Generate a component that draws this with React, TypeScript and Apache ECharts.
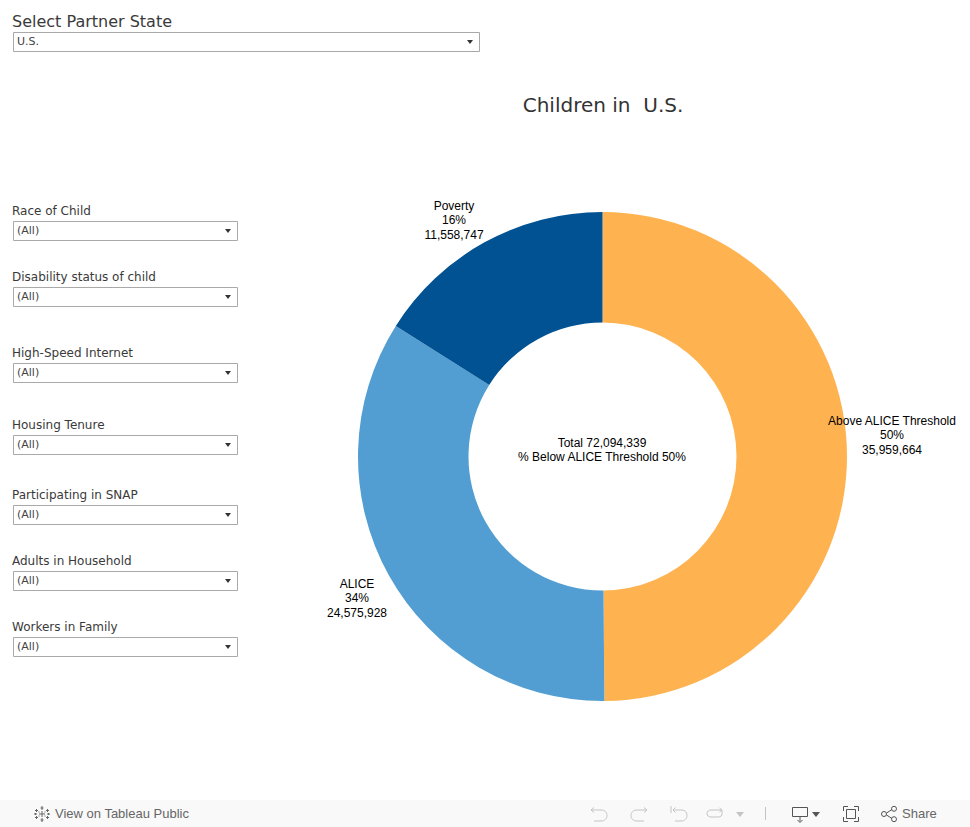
import React, { useEffect, useRef } from "react";
import * as echarts from "echarts";

const segmentNames = ["Above ALICE Threshold", "ALICE", "Poverty"];
const segmentValues = [35959664, 24575928, 11558747];
const segmentPercents = ["50%", "34%", "16%"];
const segmentColors = ["#FFB350", "#529ED2", "#005292"];
const totalLine = "Total 72,094,339";
const belowLine = "% Below ALICE Threshold 50%";
const chartTitle = "Children in  U.S.";
const partnerLabel = "Select Partner State";
const partnerValue = "U.S.";
const filterLabels = [
  "Race of Child",
  "Disability status of child",
  "High-Speed Internet",
  "Housing Tenure",
  "Participating in SNAP",
  "Adults in Household",
  "Workers in Family",
];
const filterValue = "(All)";
const filterBoxTops = [221, 287, 363, 435, 505, 571, 637];

const labelAnchors = [
  { x: 892, y: 435 },
  { x: 357, y: 598 },
  { x: 454, y: 220 },
];

const D_LOGO =
  "M8 0V4M6.5 2H9.5M8 12V16M6.5 14H9.5M2.5 3V6M1 4.5H4M13.5 3V6M12 4.5H15M2.5 10V13M1 11.5H4M13.5 10V13M12 11.5H15M0 8H3M1.5 7V9M13 8H16M14.5 7V9M8 5V11M5 8H11M5 5.5V6.5M11 5.5V6.5M5 9.5V10.5M11 9.5V10.5";
const D_UNDO = "M1 4H11C15 4 17 6.5 17 9.5C17 12.5 15 15 11 15H4M1 4L4 1.5M1 4L4 6.5";
const D_REDO = "M17 4H7C3 4 1 6.5 1 9.5C1 12.5 3 15 7 15H14M17 4L14 1.5M17 4L14 6.5";
const D_REVERT = "M1 0V7M3 4H12C15 4 17 6.5 17 9.5C17 12.5 15 15 11 15H5M3 4L5.5 1.5M3 4L5.5 6.5";
const D_REFRESH = "M16 3H5C2.5 3 1 4.5 1 6.5C1 8.5 2.5 10 5 10H12C15 10 16 8.5 16 6.5V3M16 3L13.5 1M16 3L13.5 5";
const D_DEVICE = "M0.5 0.5H15.5V9.5H0.5ZM8 9.5V14.5M5.5 13L8 15.5L10.5 13";
const D_FULL = "M0.5 5V0.5H5M11 0.5H15.5V5M15.5 11V15.5H11M5 15.5H0.5V11M3.5 3.5H12.5V12.5H3.5Z";
const D_SHARE =
  "M5.5 7L11 3.5M5.5 9L11 12.5M5.5 8A2.5 2.5 0 1 1 0.5 8A2.5 2.5 0 1 1 5.5 8M15.5 2.8A2.5 2.5 0 1 1 10.5 2.8A2.5 2.5 0 1 1 15.5 2.8M15.5 13.2A2.5 2.5 0 1 1 10.5 13.2A2.5 2.5 0 1 1 15.5 13.2";

const G = echarts.graphic as any;
G.registerShape("tabLogo", G.extendPath(D_LOGO, {}));
G.registerShape("icoUndo", G.extendPath(D_UNDO, {}));
G.registerShape("icoRedo", G.extendPath(D_REDO, {}));
G.registerShape("icoRevert", G.extendPath(D_REVERT, {}));
G.registerShape("icoRefresh", G.extendPath(D_REFRESH, {}));
G.registerShape("icoDevice", G.extendPath(D_DEVICE, {}));
G.registerShape("icoFull", G.extendPath(D_FULL, {}));
G.registerShape("icoShare", G.extendPath(D_SHARE, {}));

const UI_FONT = "'DejaVu Sans', sans-serif";
const LABEL_FONT = "'Liberation Sans', Arial, sans-serif";

function dropdown(x: number, y: number, w: number, h: number, value: string): any[] {
  return [
    { type: "rect", silent: true, shape: { x: x + 0.5, y: y + 0.5, width: w, height: h }, style: { fill: "#fff", stroke: "#a9a9a9", lineWidth: 1 } },
    { type: "text", silent: true, x: x + 4, y: y + h / 2, style: { text: value, fontFamily: UI_FONT, fontSize: 11, fill: "#444", verticalAlign: "middle", align: "left" } },
    { type: "polygon", silent: true, shape: { points: [[x + w - 12, y + 8], [x + w - 6, y + 8], [x + w - 9, y + 12]] }, style: { fill: "#333" } },
  ];
}

function icon(type: string, x: number, y: number, stroke: string, scale = 1): any {
  return { type, silent: true, x, y, scaleX: scale, scaleY: scale, style: { fill: "none", stroke, lineWidth: 1 } };
}

export default function App() {
  const ref = useRef<HTMLDivElement>(null);

  useEffect(() => {
    if (!ref.current) return;
    const chart = echarts.init(ref.current, undefined, { renderer: "svg" });
    const elements: any[] = [];

    elements.push({ type: "text", silent: true, x: 12, y: 21, style: { text: partnerLabel, fontFamily: UI_FONT, fontSize: 16, fill: "#3a3a3a", verticalAlign: "middle" } });
    elements.push(...dropdown(13, 32, 466, 19, partnerValue));

    filterLabels.forEach((label, i) => {
      const top = filterBoxTops[i];
      elements.push({ type: "text", silent: true, x: 12, y: top - 10, style: { text: label, fontFamily: UI_FONT, fontSize: 12, fill: "#3a3a3a", verticalAlign: "middle" } });
      elements.push(...dropdown(13, top, 224, 19, filterValue));
    });

    elements.push({ type: "text", silent: true, x: 603, y: 105, style: { text: chartTitle, fontFamily: UI_FONT, fontSize: 20, fill: "#333", align: "center", verticalAlign: "middle" } });
    elements.push({ type: "text", silent: true, x: 602, y: 443, style: { text: totalLine, fontFamily: LABEL_FONT, fontSize: 12, fill: "#000", align: "center", verticalAlign: "middle" } });
    elements.push({ type: "text", silent: true, x: 602, y: 457, style: { text: belowLine, fontFamily: LABEL_FONT, fontSize: 12, fill: "#000", align: "center", verticalAlign: "middle" } });

    // Footer bar
    elements.push({ type: "rect", silent: true, shape: { x: 0, y: 800, width: 970, height: 27 }, style: { fill: "#f9f9f9" } });
    elements.push(icon("tabLogo", 34, 806, "#666"));
    elements.push({ type: "text", silent: true, x: 55, y: 813, style: { text: "View on Tableau Public", fontFamily: LABEL_FONT, fontSize: 13, fill: "#666", verticalAlign: "middle" } });
    elements.push(icon("icoUndo", 590, 806, "#c4c4c4"));
    elements.push(icon("icoRedo", 630, 806, "#c4c4c4"));
    elements.push(icon("icoRevert", 670, 806, "#c4c4c4"));
    elements.push(icon("icoRefresh", 706, 807, "#c4c4c4"));
    elements.push({ type: "polygon", silent: true, shape: { points: [[736, 812], [744, 812], [740, 817]] }, style: { fill: "#c4c4c4" } });
    elements.push({ type: "line", silent: true, shape: { x1: 765.5, y1: 807, x2: 765.5, y2: 820 }, style: { stroke: "#c4c4c4", lineWidth: 1 } });
    elements.push(icon("icoDevice", 792, 807, "#555"));
    elements.push({ type: "polygon", silent: true, shape: { points: [[812, 812], [820, 812], [816, 817]] }, style: { fill: "#555" } });
    elements.push(icon("icoFull", 843, 806, "#555"));
    elements.push(icon("icoShare", 881, 806, "#555"));
    elements.push({ type: "text", silent: true, x: 902, y: 813, style: { text: "Share", fontFamily: LABEL_FONT, fontSize: 13, fill: "#666", verticalAlign: "middle" } });

    chart.setOption({
      animation: false,
      backgroundColor: "#ffffff",
      color: segmentColors,
      graphic: { elements },
      series: [
        {
          type: "pie",
          silent: true,
          center: [602.5, 456.5],
          radius: [134, 244.5],
          startAngle: 90,
          clockwise: true,
          minAngle: 0,
          avoidLabelOverlap: false,
          itemStyle: { borderWidth: 0 },
          emphasis: { disabled: true },
          labelLine: { show: false },
          label: {
            show: true,
            position: "outside",
            fontFamily: LABEL_FONT,
            fontSize: 12,
            lineHeight: 14.5,
            color: "#000",
            align: "center",
            formatter: (p: any) =>
              `${p.name}\n${segmentPercents[p.dataIndex]}\n${p.value.toLocaleString("en-US")}`,
          },
          labelLayout: (p: any) => ({
            x: labelAnchors[p.dataIndex].x,
            y: labelAnchors[p.dataIndex].y,
            align: "center",
            verticalAlign: "middle",
          }),
          data: segmentNames.map((name, i) => ({ name, value: segmentValues[i] })),
        },
      ],
    });
    return () => chart.dispose();
  }, []);

  return <div ref={ref} style={{ position: "fixed", left: 0, top: 0, width: 970, height: 827 }} />;
}
